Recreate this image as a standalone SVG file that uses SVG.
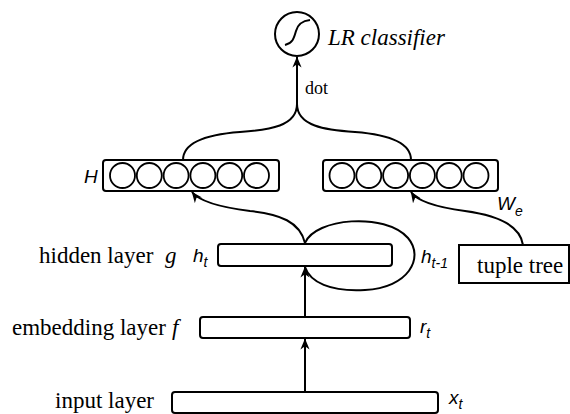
<svg xmlns="http://www.w3.org/2000/svg" width="570" height="414" viewBox="0 0 570 414">
  <style>
    .ln { fill: none; stroke: #000; stroke-width: 2; }
    .box { fill: #fff; stroke: #000; stroke-width: 2; }
    .unit { fill: #fff; stroke: #000; stroke-width: 1.8; }
    .serif { font-family: "Liberation Serif", "Times New Roman", serif; font-size: 23px; fill: #000; }
    .it { font-style: italic; }
    .sym { font-family: "Liberation Sans", Arial, sans-serif; font-style: italic; font-size: 19px; fill: #000; }
    .sub { font-size: 14px; }
  </style>
  <defs>
    <marker id="arr" viewBox="0 0 12 10" refX="11.5" refY="5" markerWidth="11" markerHeight="10" markerUnits="userSpaceOnUse" orient="auto">
      <path d="M0,0 L12,5 L0,10 L3.5,5 z" fill="#000"/>
    </marker>
    <circle id="u" r="12.5" class="unit"/>
  </defs>

  <!-- connectors -->
  <g id="connectors">
    <!-- dot product into the classifier -->
    <path class="ln" d="M297,110 L297,57" marker-end="url(#arr)"/>
    <!-- brace joining the two vectors -->
    <path class="ln" d="M297,104 C297,126 270,130 240,132 C200,135 183,145 183,160"/>
    <path class="ln" d="M297,104 C297,126 325,130 355,132 C395,135 411,145 411,160"/>
    <!-- hidden state up to H -->
    <path class="ln" d="M305,243 C300,222 280,214 250,211 C218,207 199,201 192,192" marker-end="url(#arr)"/>
    <!-- tuple tree up to embedding vector -->
    <path class="ln" d="M523,245 C520,224 495,215 465,211 C435,207 417,201 411,192" marker-end="url(#arr)"/>
    <!-- recurrent loop -->
    <path class="ln" d="M305,243 C315,218 385,212 408,238 C425,258 408,288 365,290 C330,292 310,282 305,267"/>
    <!-- embedding to hidden -->
    <path class="ln" d="M305,317 L305,267" marker-end="url(#arr)"/>
    <!-- input to embedding -->
    <path class="ln" d="M305,392 L305,339" marker-end="url(#arr)"/>
  </g>

  <!-- classifier -->
  <g id="classifier">
    <circle cx="297" cy="34" r="22" class="ln"/>
    <path class="ln" d="M285,45 C293,43 294,38 296,31 C298,24 302,21 310,20"/>
    <text class="serif it" x="328" y="45">LR classifier</text>
    <text class="serif" x="305" y="94" style="font-size:18px">dot</text>
  </g>

  <!-- H vector -->
  <g id="vector-H">
    <rect class="box" x="103" y="160" width="176" height="31" rx="3"/>
    <use href="#u" x="122.5" y="175.5"/>
    <use href="#u" x="149.3" y="175.5"/>
    <use href="#u" x="176.1" y="175.5"/>
    <use href="#u" x="202.9" y="175.5"/>
    <use href="#u" x="229.7" y="175.5"/>
    <use href="#u" x="256.5" y="175.5"/>
    <text class="sym" x="84" y="183">H</text>
  </g>

  <!-- embedded tuple vector -->
  <g id="vector-We">
    <rect class="box" x="323" y="160" width="175" height="31" rx="3"/>
    <use href="#u" x="342" y="175.5"/>
    <use href="#u" x="368.8" y="175.5"/>
    <use href="#u" x="395.6" y="175.5"/>
    <use href="#u" x="422.4" y="175.5"/>
    <use href="#u" x="449.2" y="175.5"/>
    <use href="#u" x="476" y="175.5"/>
    <text class="sym" x="497" y="210">W<tspan class="sub" dy="6">e</tspan></text>
  </g>

  <!-- tuple tree -->
  <g id="tuple-tree">
    <rect class="box" x="459" y="245" width="110" height="38"/>
    <text class="serif" x="477" y="273">tuple tree</text>
  </g>

  <!-- hidden layer -->
  <g id="hidden-layer">
    <rect class="box" x="218" y="244" width="174" height="22" rx="3"/>
    <text class="serif" x="39" y="263">hidden layer</text>
    <text class="serif it" x="165" y="263">g</text>
    <text class="sym" x="193" y="262">h<tspan class="sub" dy="5">t</tspan></text>
    <text class="sym" x="421" y="263">h<tspan class="sub" dy="5">t-1</tspan></text>
  </g>

  <!-- embedding layer -->
  <g id="embedding-layer">
    <rect class="box" x="200" y="317" width="210" height="21" rx="3"/>
    <text class="serif" x="12" y="335">embedding layer</text>
    <text class="serif it" x="172" y="335">f</text>
    <text class="sym" x="420" y="333">r<tspan class="sub" dy="5">t</tspan></text>
  </g>

  <!-- input layer -->
  <g id="input-layer">
    <rect class="box" x="172" y="392" width="266" height="21" rx="3"/>
    <text class="serif" x="55" y="408">input layer</text>
    <text class="sym" x="449" y="404">x<tspan class="sub" dy="5">t</tspan></text>
  </g>
</svg>
